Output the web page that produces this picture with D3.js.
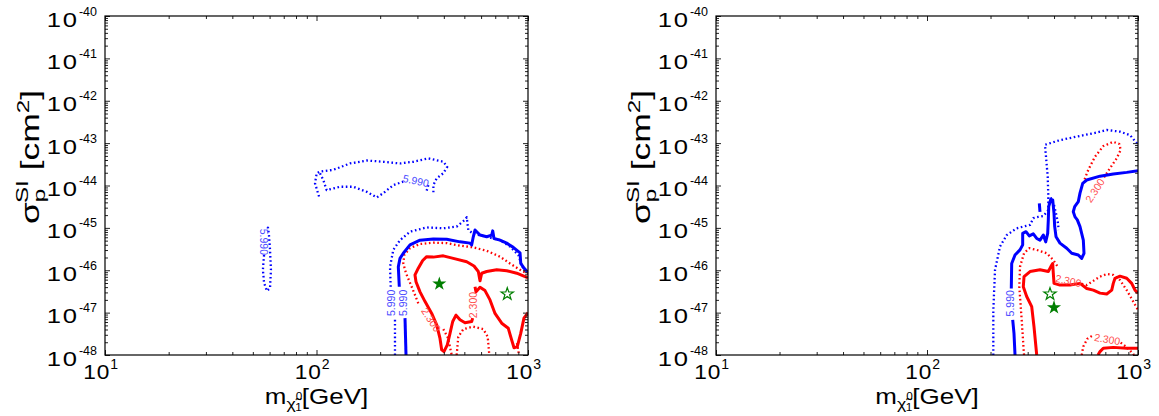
<!DOCTYPE html>
<html><head><meta charset="utf-8">
<script src="https://cdn.jsdelivr.net/npm/d3@7"></script>
<style>
body{margin:0;background:#fff}
svg{display:block}
text{font-family:"Liberation Sans",Arial,Helvetica,sans-serif}
</style>
</head><body>
<svg id="chart" width="1159" height="416"></svg>
<script>
// ---------------- DATA (mass in GeV, cross-section as log10 of cm^2) ----------------
const xTickExponents = [1, 2, 3];
const yTickExponents = [-48, -47, -46, -45, -44, -43, -42, -41, -40];

// Left panel: blue 5.990 contours
const leftBlueDotIslandA = [[102.8,-44.26],[98.4,-43.95],[100.2,-43.71],[103.9,-43.67],[120,-43.63],[144,-43.48],[173,-43.41],[207,-43.44],[248,-43.48],[287,-43.44],[338,-43.36],[398,-43.44],[415,-43.56],[398,-43.71],[370,-43.83],[357,-43.99],[357,-44.18]];
const leftBlueDotIslandB = [[103.9,-43.71],[107.7,-43.87],[111.7,-44.11],[129,-44.03],[149,-44.03],[173,-44.15],[193,-44.28],[207,-44.18],[231,-43.99],[257,-43.91]];
const leftBlueDotIslandC = [[338,-43.99],[329,-44.18]];
const leftBlueDotSmall = [[56.5,-45.64],[55.8,-45.99],[56.5,-46.30],[58.3,-46.49],[60.3,-46.42],[60.9,-45.99],[60.3,-45.52],[59.6,-45.17],[59.0,-45.00],[57.7,-44.96]];
const leftBlueDotOuterA = [[235,-48],[235,-47.17]];
const leftBlueDotOuterB = [[224.3,-46.39],[222.6,-45.92],[230.7,-45.52],[248.2,-45.29],[276.7,-45.09],[331.9,-44.99],[397.6,-45.01],[460,-44.97],[503.7,-44.81],[513.1,-44.75],[522.1,-45.05],[551.2,-45.14],[637.8,-45.21],[737.2,-45.29],[821.9,-45.44],[899.9,-45.64],[933.8,-45.88],[967.8,-46.03],[1000,-46.08]];
const leftBlueSolidA = [[265,-48],[262.1,-47.13]];
const leftBlueSolidB = [[246.3,-46.39],[243.7,-45.92],[248.2,-45.72],[257.3,-45.60],[276.7,-45.40],[308.6,-45.29],[356.6,-45.26],[412.7,-45.27],[477,-45.33],[531.8,-45.36],[541.7,-45.40],[551.2,-45.21],[561.6,-45.05],[572.1,-45.09],[593,-45.17],[637.8,-45.21],[673.6,-45.17],[681,-45.07],[690.6,-45.25],[737.2,-45.29],[793,-45.36],[852,-45.46],[917,-45.59],[924,-45.84],[957,-45.95],[992,-46.03],[1000,-46.04]];
// Left panel: red 2.300 contours
const leftRedDotA = [[302.9,-46.78],[281.9,-46.39],[265,-46.07],[257.3,-45.84],[260.1,-45.64],[276.7,-45.48],[308.6,-45.38],[356.6,-45.35],[412.7,-45.36],[477,-45.42],[551.2,-45.46],[637.8,-45.54],[737.2,-45.68],[821.9,-45.84],[917,-45.99],[1000,-46.09]];
const leftRedDotB = [[397.6,-47.39],[418.6,-47.60],[435.8,-48]];
const leftRedDotC = [[460,-48],[468.2,-47.57],[494.5,-47.39],[551.2,-47.33],[614.8,-47.39],[644.9,-47.57],[656.2,-48]];
const leftRedDotD = [[887,-47.72],[907,-48]];
const leftRedSolidA = [[547.6,-47.13],[541.7,-47.21],[503.7,-47.24],[477,-47.17],[456.6,-47.06],[440.6,-47.21],[427.8,-47.49],[415.4,-47.76],[400.6,-47.92],[390.8,-47.88],[383.6,-47.61],[370.1,-47.29],[350.5,-47.02],[326,-46.74],[308.6,-46.51],[295.4,-46.27],[292.2,-46.11],[302.9,-45.95],[317.8,-45.77],[331.9,-45.68],[356.6,-45.69],[397.6,-45.66],[443.5,-45.72],[513.1,-45.80],[555.5,-45.90],[582.1,-46.03],[593,-46.25],[604,-46.07],[637.8,-46.03],[711.2,-45.99],[793,-46.01],[884.6,-46.07],[1000,-46.18]];
const leftRedSolidB = [[561.6,-46.39],[567.8,-46.51],[593,-46.40],[626.2,-46.48],[661.2,-46.70],[698.2,-47.02],[751,-47.25],[807,-47.37],[837.5,-47.65],[858.8,-47.83],[890,-47.80],[924,-47.49],[957,-47.13],[1000,-47.0]];
const leftLabels = [[295,-43.89,"5.990"],[56,-45.33,"5.990"],[226.3,-46.77,"5.990"],[256.5,-46.77,"5.990"],[347.9,-47.17,"2.300"],[549.5,-46.82,"2.300"]];
const leftBestFit = [380.8,-46.32];
const leftOpenStar = [798,-46.56];

// Right panel: blue 5.990 contours
const rightBlueDotA = [[206.2,-48],[206.2,-46.94],[210.1,-45.99],[221.8,-45.44],[238.7,-45.17],[266.1,-45.01],[286,-44.97],[307.8,-44.93],[319,-44.77],[336.9,-44.74],[355.8,-44.72],[375.8,-44.58],[375.8,-44.26],[373.3,-43.79],[366.4,-43.32],[362.4,-43.04],[426.8,-42.93],[531,-42.83],[637.2,-42.75],[710.9,-42.69],[821.5,-42.73],[916.6,-42.81],[985.8,-43.0],[1000,-43.05]];
const rightBlueDotB = [[385.8,-44.28],[399.9,-44.46],[408.8,-44.66],[416.4,-44.85],[421,-45.05]];
const rightBlueSolidA = [[261.3,-48],[258.4,-47.49],[254.8,-47.17]];
const rightBlueSolidB = [[250.9,-46.43],[252,-45.84],[261.3,-45.64],[275.9,-45.52],[284.1,-45.40],[284.1,-45.13],[294.5,-45.09],[305.3,-45.19],[319,-45.14],[331.1,-45.25],[343.2,-45.29],[355.8,-45.17],[365.2,-45.33],[373.3,-45.13],[375.8,-44.81],[377.5,-44.50],[385.8,-44.33],[394.2,-44.34],[399.9,-44.66],[402.9,-44.97],[408.8,-45.21],[426.8,-45.36],[459.3,-45.48],[485.1,-45.60],[521.3,-45.64],[541,-45.72],[554.8,-45.60],[550.6,-45.29],[531,-44.97],[515.7,-44.81],[502.9,-44.74],[493.5,-44.62],[501.2,-44.50],[521.3,-44.38],[531,-44.18],[547,-43.95],[571.4,-43.87],[660.6,-43.78],[763.6,-43.73],[884.2,-43.69],[1000,-43.65]];
const rightBlueSolidC = [[340.6,-44.42],[343.2,-44.62]];
// Right panel: red 2.300 contours
const rightRedDotA = [[690.2,-43.81],[736.7,-43.59],[792.6,-43.36],[827.9,-43.16],[815.3,-43.02],[763.6,-42.97],[684.7,-43.07],[625.6,-43.32],[581.4,-43.63],[554.8,-43.89]];
const rightRedDotB = [[288.3,-48],[281,-47.17],[273.8,-46.39],[275.9,-45.92],[288.3,-45.60],[305.3,-45.48],[331.1,-45.52],[369.3,-45.60],[396.8,-45.76],[414.5,-45.90]];
const rightRedDotC = [[541,-46.32],[571.4,-46.35],[614.1,-46.25],[660.6,-46.15],[710.9,-46.09],[763.6,-46.11],[821.5,-46.23],[884.2,-46.47],[950,-46.74],[1000,-46.94]];
const rightRedDotD = [[541,-48],[550.6,-47.80],[575,-47.62],[614.1,-47.53]];
const rightRedDotE = [[827.9,-47.71],[884.2,-47.82],[943.9,-47.96],[957.2,-48]];
const rightRedSolidA = [[331.1,-48],[321.4,-47.33],[313.5,-46.86],[296.8,-46.62],[286,-46.39],[288.3,-46.15],[307.8,-46.03],[343.2,-45.99],[375.8,-46.03],[385.8,-45.92],[394.2,-45.84],[396.8,-46.07],[399.9,-46.31],[426.8,-46.35],[476.1,-46.35],[531,-46.31],[571.4,-46.43],[614.1,-46.47],[660.6,-46.54],[710.9,-46.56],[750.7,-46.47],[763.6,-46.31],[778,-46.19],[821.5,-46.14],[884.2,-46.19],[933.4,-46.31],[967.8,-46.47],[1000,-46.54]];
const rightRedSolidB = [[646.3,-48],[660.6,-47.92],[684.7,-47.84],[763.6,-47.82],[884.2,-47.84],[1000,-47.84]];
const rightLabels = [[249.3,-46.78,"5.990"],[625.6,-44.12,"2.300"],[467.4,-46.25,"2.300"],[715.5,-47.63,"2.300"]];
const rightBestFit = [399.9,-46.88];
const rightOpenStar = [382.8,-46.56];

// ---------------- STYLE / LAYOUT ----------------
const BLUE = "#0000ff", RED = "#ff0000", GREEN = "#007f00";
const styles = {
  blueDot: {stroke: BLUE, width: 2.3, dash: "1.6 2.6"},
  blueSolid: {stroke: BLUE, width: 3, dash: null},
  redDot: {stroke: RED, width: 2.3, dash: "1.6 2.6"},
  redSolid: {stroke: RED, width: 3, dash: null}
};
const labelAngles = {left: [12, 90, -90, -90, 57, -90], right: [-90, -57, 12, 10]};
const panels = [
  {x0: 105, x1: 528, y0: 16, y1: 355,
   lines: [[leftBlueDotIslandA,"blueDot"],[leftBlueDotIslandB,"blueDot"],[leftBlueDotIslandC,"blueDot"],[leftBlueDotSmall,"blueDot"],
           [leftBlueDotOuterA,"blueDot"],[leftBlueDotOuterB,"blueDot"],[leftRedDotA,"redDot"],[leftRedDotB,"redDot"],
           [leftRedDotC,"redDot"],[leftRedDotD,"redDot"],[leftBlueSolidA,"blueSolid"],[leftBlueSolidB,"blueSolid"],
           [leftRedSolidA,"redSolid"],[leftRedSolidB,"redSolid"]],
   labels: leftLabels, angles: labelAngles.left, filled: leftBestFit, open: leftOpenStar},
  {x0: 716, x1: 1138, y0: 16, y1: 355,
   lines: [[rightBlueDotA,"blueDot"],[rightBlueDotB,"blueDot"],[rightRedDotA,"redDot"],[rightRedDotB,"redDot"],
           [rightRedDotC,"redDot"],[rightRedDotD,"redDot"],[rightRedDotE,"redDot"],[rightBlueSolidA,"blueSolid"],
           [rightBlueSolidB,"blueSolid"],[rightBlueSolidC,"blueSolid"],[rightRedSolidA,"redSolid"],[rightRedSolidB,"redSolid"]],
   labels: rightLabels, angles: labelAngles.right, filled: rightBestFit, open: rightOpenStar}
];

const svg = d3.select("#chart");
svg.append("rect").attr("width",1159).attr("height",416).attr("fill","#fff");

const xMajor = xTickExponents.map(e => Math.pow(10, e));
const yMajor = yTickExponents.map(e => Math.pow(10, e));
const xMinor = [], yMinor = [];
for (let e = 1; e < 3; e++) for (let k = 2; k <= 9; k++) xMinor.push(k * Math.pow(10, e));
for (let e = -48; e < -40; e++) for (let k = 2; k <= 9; k++) yMinor.push(k * Math.pow(10, e));

// power-of-ten label: wide "10" + small superscript, right edge at (rx, by)
function powerLabel(g, rx, by, exp, baseSize, baseScale, spacing, supSize, supDy) {
  const sup = g.append("text").attr("x", rx).attr("y", by + supDy).attr("text-anchor", "end")
    .attr("font-size", supSize).attr("fill", "#000").text(String(exp));
  const sw = sup.node().getComputedTextLength();
  g.append("text").attr("transform", `translate(${rx - sw},${by}) scale(${baseScale},1)`)
    .attr("text-anchor", "end").attr("font-size", baseSize).attr("letter-spacing", spacing)
    .attr("fill", "#000").text("10");
}

panels.forEach((p, i) => {
  const x = d3.scaleLog().domain([10, 1000]).range([p.x0, p.x1]);
  const y = d3.scaleLog().domain([1e-48, 1e-40]).range([p.y1, p.y0]);
  const g = svg.append("g");

  const clipId = "clip" + i;
  g.append("clipPath").attr("id", clipId).append("rect")
    .attr("x", p.x0).attr("y", p.y0).attr("width", p.x1 - p.x0).attr("height", p.y1 - p.y0);

  // contours
  const line = d3.line().x(d => x(d[0])).y(d => y(Math.pow(10, d[1])));
  const cg = g.append("g").attr("clip-path", `url(#${clipId})`);
  p.lines.forEach(([pts, st]) => {
    const s = styles[st];
    cg.append("path").attr("d", line(pts)).attr("fill", "none")
      .attr("stroke", s.stroke).attr("stroke-width", s.width)
      .attr("stroke-dasharray", s.dash).attr("stroke-linejoin", "round");
  });

  // contour labels
  p.labels.forEach((l, j) => {
    const isBlue = l[2] === "5.990";
    cg.append("text").attr("transform", `translate(${x(l[0])},${y(Math.pow(10, l[1]))}) rotate(${p.angles[j]})`)
      .attr("text-anchor", "middle").attr("dy", "0.35em").attr("font-size", 10.5)
      .attr("fill", isBlue ? "#4a4aff" : "#ff5050").text(l[2]);
  });

  // stars
  cg.append("path").attr("d", d3.symbol(d3.symbolStar).size(62)())
    .attr("transform", `translate(${x(p.filled[0])},${y(Math.pow(10, p.filled[1]))})`).attr("fill", GREEN);
  cg.append("path").attr("d", d3.symbol(d3.symbolStar).size(46)())
    .attr("transform", `translate(${x(p.open[0])},${y(Math.pow(10, p.open[1]))})`)
    .attr("fill", "#fff").attr("stroke", GREEN).attr("stroke-width", 1.2);

  // axes (inward ticks)
  const mk = (axis, scale, vals, size) => axis(scale).tickValues(vals).tickSizeInner(-size).tickSizeOuter(0).tickFormat("");
  const axes = [
    [d3.axisLeft, y, yMajor, yMinor, `translate(${p.x0},0)`],
    [d3.axisRight, y, yMajor, yMinor, `translate(${p.x1},0)`],
    [d3.axisBottom, x, xMajor, xMinor, `translate(0,${p.y1})`],
    [d3.axisTop, x, xMajor, xMinor, `translate(0,${p.y0})`]
  ];
  axes.forEach(([ax, sc, maj, min, tr]) => {
    [[maj, 5], [min, 3]].forEach(([vals, size]) => {
      const a = g.append("g").attr("transform", tr).call(mk(ax, sc, vals, size));
      a.select(".domain").remove();
      a.selectAll("line").attr("stroke", "#222").attr("stroke-width", 1);
    });
  });
  g.append("rect").attr("x", p.x0).attr("y", p.y0).attr("width", p.x1 - p.x0).attr("height", p.y1 - p.y0)
    .attr("fill", "none").attr("stroke", "#000").attr("stroke-width", 1.2);

  // y tick labels
  yTickExponents.forEach(e => {
    powerLabel(g, p.x0 - 8, y(Math.pow(10, e)) + 10.5, e, 21, 1.22, 1.5, 12.5, -11);
  });
  // x tick labels
  xTickExponents.forEach(e => {
    powerLabel(g, x(Math.pow(10, e)) + 13, 379, e, 21, 1.08, 0.8, 14, -10);
  });

  // x axis title
  const xt = g.append("text").attr("transform", `translate(${x(100)},404) scale(1.18,1)`)
    .attr("text-anchor", "middle").attr("font-size", 22).attr("fill", "#000");
  xt.append("tspan").text("m");
  xt.append("tspan").attr("dy", 5).attr("font-size", 15).text("\u03C7\u0303");
  xt.append("tspan").attr("dy", -9).attr("font-size", 10).text("0");
  xt.append("tspan").attr("dx", -6).attr("dy", 11).attr("font-size", 10).text("1");
  xt.append("tspan").attr("dy", -7).attr("font-size", 22).text("[GeV]");

  // y axis title
  const yt = g.append("text").attr("transform", `translate(${p.x0 - 66},157) rotate(-90) scale(1.42,1)`)
    .attr("text-anchor", "middle").attr("font-size", 25).attr("fill", "#000");
  yt.append("tspan").text("\u03C3");
  yt.append("tspan").attr("dy", 6).attr("font-size", 17).text("p");
  yt.append("tspan").attr("dx", -10).attr("dy", -17).attr("font-size", 17).text("SI");
  yt.append("tspan").attr("dy", 11).text(" [cm");
  yt.append("tspan").attr("dy", -10).attr("font-size", 17).text("2");
  yt.append("tspan").attr("dy", 10).text("]");
});
</script>
</body></html>
